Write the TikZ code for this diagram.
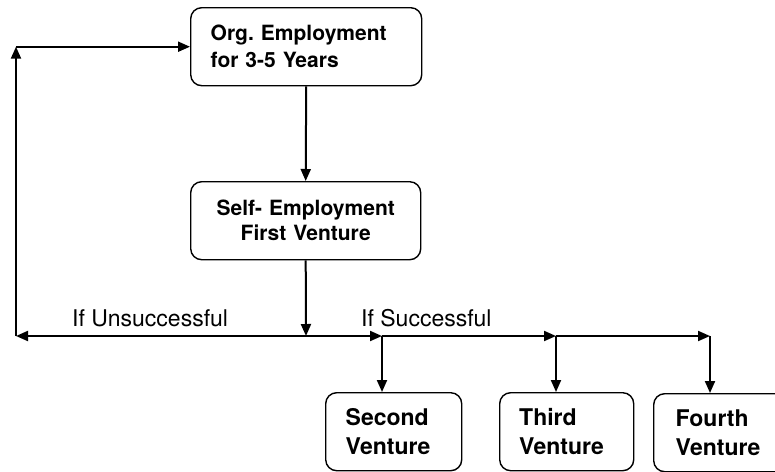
\documentclass[tikz,border=0pt]{standalone}
\usepackage{fontspec}
\setmainfont{TeX Gyre Heros}
\usetikzlibrary{arrows.meta}
\frenchspacing
\tikzset{
  box/.style={draw, line width=1.4pt, rounded corners=11pt, anchor=north west,
    minimum height=78pt, inner xsep=20pt, inner ysep=0pt,
    font=\fontsize{21}{27}\selectfont\bfseries},
  vbox/.style={box, text width=96pt, align=left, font=\fontsize{23}{29}\selectfont\bfseries},
  conn/.style={line width=2pt, -{Triangle[length=12pt,width=10pt]}},
  lbl/.style={inner sep=0pt, anchor=base west, font=\fontsize{23}{27}\selectfont},
}
\begin{document}
\begin{tikzpicture}[x=1pt,y=-1pt]
\useasboundingbox (0,0) rectangle (775,471);
\clip (0,0) rectangle (775,471);
\node[box, text width=191pt, align=left] (org) at (190,7) {Org. Employment\\for 3-5 Years};
\node[box, text width=190pt, align=center, font=\fontsize{21}{25}\selectfont\bfseries] (self) at (190,181) {Self- Employment\\First Venture};
\node[vbox] (second) at (325,392) {Second\\Venture};
\node[vbox, text width=95pt, inner xsep=19.5pt] (third) at (499,392) {Third\\Venture};
\node[vbox, text width=94pt, inner xsep=22pt] (fourth) at (653,393) {Fourth\\Venture};
\coordinate (j) at (306,336);
\coordinate (L) at (16,336);
\coordinate (c2) at (382,336);
\coordinate (c3) at (556,336);
\coordinate (c4) at (710,336);
\node[lbl] (unsucc) at (72,326) {If Unsuccessful};
\node[lbl] (succ) at (361,326) {If Successful};
\draw[conn] (org.south) -- (self.north);
\draw[conn] (self.south) -- (j);
\draw[conn] (j) -- (L);
\draw[conn] (L) -- (L |- org.west);
\draw[conn] (L |- org.west) -- (org.west);
\draw[conn] (j) -- (c2);
\draw[conn] (c2) -- (c3);
\draw[conn] (c3) -- (c4);
\draw[conn] (c2) -- (c2 |- second.north);
\draw[conn] (c3) -- (c3 |- third.north);
\draw[conn] (c4) -- (c4 |- fourth.north);
\end{tikzpicture}
\end{document}
